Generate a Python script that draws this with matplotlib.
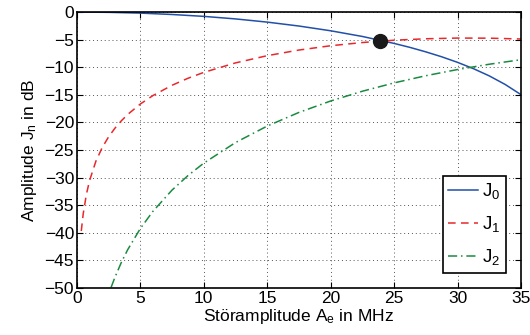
import matplotlib
matplotlib.use('Agg')
import matplotlib.pyplot as plt

plt.rcParams['font.family'] = ['Liberation Sans', 'DejaVu Sans']
plt.rcParams['mathtext.default'] = 'regular'

# values (amplitude in dB)
x_j0 = [0, 2.5, 5, 7.5, 10, 12.5, 15, 17.5, 20, 22.5, 25, 26.25, 27.5, 28.75,
        30, 31.25, 32.5, 33.75, 35]
j0 = [0, -0.05, -0.19, -0.44, -0.78, -1.24, -1.82, -2.53, -3.39, -4.42,
      -5.68, -6.40, -7.21, -8.10, -9.11, -10.25, -11.56, -13.11, -14.96]

x_j1 = [0.35, 0.5, 0.75, 1, 1.5, 2, 2.5, 3, 3.5, 4, 5, 6, 7.5, 8.75, 10,
        12.5, 15, 17.5, 20, 22.5, 25, 27.5, 30, 32.5, 35]
j1 = [-39.66, -36.56, -33.04, -30.54, -27.02, -24.54, -22.61, -21.04, -19.71,
      -18.56, -16.66, -15.12, -13.26, -12.00, -10.93, -9.21, -7.90, -6.88,
      -6.10, -5.52, -5.10, -4.84, -4.71, -4.73, -4.88]

x_j2 = [2.7, 3, 3.5, 4, 5, 6, 7.5, 8.75, 10, 12.5, 15, 17.5, 20, 22.5, 25,
        27.5, 30, 32.5, 35]
j2 = [-49.86, -48.05, -45.38, -43.07, -39.22, -36.08, -32.25, -29.63, -27.37,
      -23.64, -20.65, -18.18, -16.11, -14.34, -12.83, -11.53, -10.41, -9.45,
      -8.63]

cross_x = [23.9]
cross_y = [-5.2]

fig = plt.figure(figsize=(5.3, 3.35), dpi=100)
ax = fig.add_axes([0.145, 0.140, 0.838, 0.824])

ax.plot(x_j0, j0, color='#2150a8', lw=1.1, label='$J_0$')
ax.plot(x_j1, j1, color='#e8282c', lw=1.1, ls=(0, (5, 3.5)), label='$J_1$')
ax.plot(x_j2, j2, color='#1b8a40', lw=1.1, ls=(0, (6, 2.5, 1, 2.5)), label='$J_2$')
ax.plot(cross_x, cross_y, 'o', color='#1a1a1a', ms=10, zorder=5)

ax.set_xlim(0, 35)
ax.set_ylim(-50, 0)
ax.set_xticks(range(0, 36, 5))
ax.set_yticks(range(-50, 1, 5))
ax.set_yticklabels(['\u221250', '\u221245', '\u221240', '\u221235', '\u221230',
                    '\u221225', '\u221220', '\u221215', '\u221210', '\u22125', '0'])
ax.grid(True, ls=(0, (1, 3)), color='#555555', lw=0.7)
ax.tick_params(direction='in', top=True, right=True, labelsize=12.5, length=4, pad=2)
for s in ax.spines.values():
    s.set_linewidth(1.2)

ax.set_xlabel('Störamplitude $A_e$ in MHz', fontsize=12.5, labelpad=1)
ax.set_ylabel('Amplitude $J_n$ in dB', fontsize=12.5, labelpad=4)

leg = ax.legend(loc='lower right', fontsize=13.5, fancybox=False, edgecolor='black',
                framealpha=1, handlelength=1.6, labelspacing=0.7, borderaxespad=0.8,
                handletextpad=0.2, borderpad=0.3)
leg.get_frame().set_linewidth(1.2)

plt.savefig('out.png', dpi=100)
